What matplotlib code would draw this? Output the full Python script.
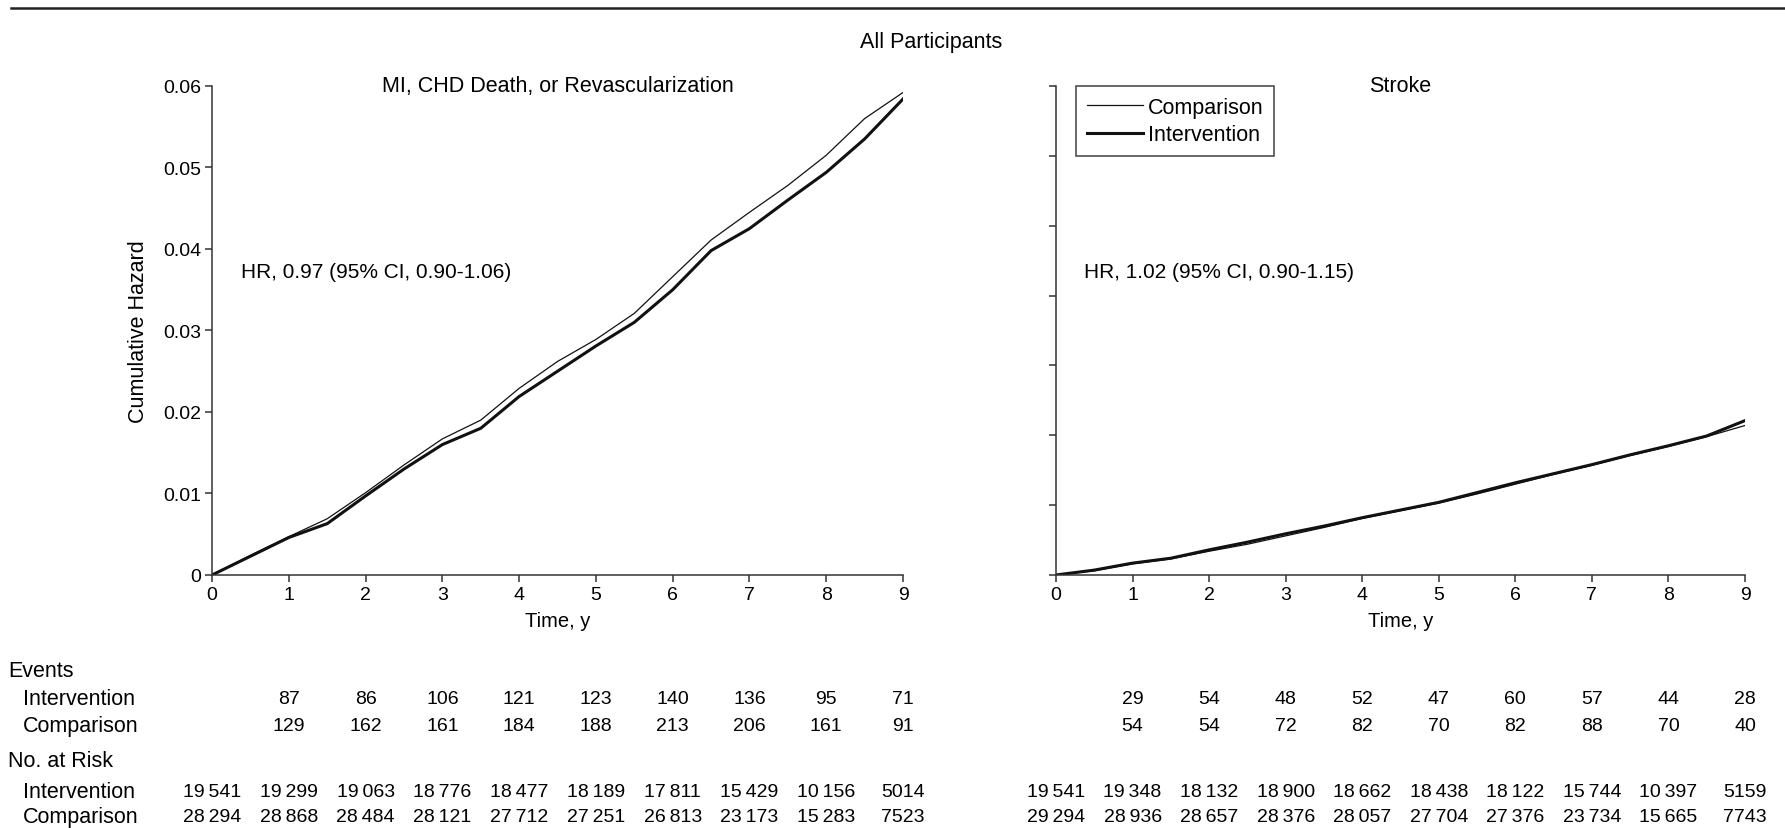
import matplotlib
matplotlib.use('Agg')
import matplotlib.pyplot as plt
from matplotlib.lines import Line2D
from matplotlib.transforms import blended_transform_factory

plt.rcParams['font.family'] = ['Liberation Sans', 'DejaVu Sans']
plt.rcParams['font.size'] = 14

# cumulative hazard read at half-year steps
years = [0, 0.5, 1, 1.5, 2, 2.5, 3, 3.5, 4, 4.5, 5, 5.5, 6, 6.5, 7, 7.5, 8, 8.5, 9]
chd_comparison = [0, 0.0024, 0.0047, 0.0069, 0.0101, 0.0135, 0.0167, 0.0190, 0.0229, 0.0262,
                  0.0289, 0.0321, 0.0366, 0.0411, 0.0445, 0.0478, 0.0515, 0.0560, 0.0592]
chd_intervention = [0, 0.0023, 0.0046, 0.0063, 0.0097, 0.0130, 0.0160, 0.0180, 0.0219, 0.0250,
                    0.0281, 0.0310, 0.0350, 0.0398, 0.0425, 0.0460, 0.0494, 0.0535, 0.0584]
stroke_comparison = [0, 0.0006, 0.0016, 0.0023, 0.0034, 0.0044, 0.0056, 0.0068, 0.0081, 0.0092,
                     0.0103, 0.0116, 0.0130, 0.0144, 0.0157, 0.0171, 0.0184, 0.0198, 0.0214]
stroke_intervention = [0, 0.0007, 0.0017, 0.0024, 0.0036, 0.0047, 0.0059, 0.0070, 0.0082, 0.0093,
                       0.0104, 0.0118, 0.0132, 0.0145, 0.0158, 0.0172, 0.0185, 0.0199, 0.0221]

# events per year (shown at end of each year) and numbers at risk (years 0-9)
chd_events_int = [87, 86, 106, 121, 123, 140, 136, 95, 71]
chd_events_comp = [129, 162, 161, 184, 188, 213, 206, 161, 91]
chd_risk_int = [19541, 19299, 19063, 18776, 18477, 18189, 17811, 15429, 10156, 5014]
chd_risk_comp = [28294, 28868, 28484, 28121, 27712, 27251, 26813, 23173, 15283, 7523]
stroke_events_int = [29, 54, 48, 52, 47, 60, 57, 44, 28]
stroke_events_comp = [54, 54, 72, 82, 70, 82, 88, 70, 40]
stroke_risk_int = [19541, 19348, 18132, 18900, 18662, 18438, 18122, 15744, 10397, 5159]
stroke_risk_comp = [29294, 28936, 28657, 28376, 28057, 27704, 27376, 23734, 15665, 7743]

ticks_x = list(range(10))
WORD = 15.5   # size for labels made of words
NUM = 14      # size for numbers


def fmt(n):
    if n >= 10000:
        return f"{n:,}".replace(',', '\u2009')
    return str(n)


fig = plt.figure(figsize=(17.85, 8.29), dpi=100)
ax1 = fig.add_axes([0.1188, 0.3052, 0.3871, 0.5899])
ax2 = fig.add_axes([0.5916, 0.3052, 0.3860, 0.5899])

spine_col = '#333333'
for ax in (ax1, ax2):
    for s in ('top', 'right'):
        ax.spines[s].set_visible(False)
    for s in ('left', 'bottom'):
        ax.spines[s].set_color(spine_col)
        ax.spines[s].set_linewidth(1.1)
    ax.tick_params(direction='out', length=5, width=1.1, color=spine_col, labelsize=NUM)
    ax.tick_params(axis='x', pad=3)
    ax.tick_params(axis='y', pad=3)
    ax.set_xlim(0, 9)
    ax.set_xticks(ticks_x)
    ax.set_xlabel('Time, y', fontsize=14.5, labelpad=6)

ax1.plot(years, chd_comparison, color='#111111', lw=0.9, label='Comparison')
ax1.plot(years, chd_intervention, color='#111111', lw=2.2, label='Intervention')
ax1.set_ylim(0, 0.06)
ax1.set_yticks([0, 0.01, 0.02, 0.03, 0.04, 0.05, 0.06])
ax1.set_yticklabels(['0', '0.01', '0.02', '0.03', '0.04', '0.05', '0.06'])
ax1.set_ylabel('Cumulative Hazard', fontsize=WORD, labelpad=10)
ax1.text(0.5, 1.0, 'MI, CHD Death, or Revascularization', transform=ax1.transAxes,
         ha='center', va='center', fontsize=WORD)
ax1.text(0.38, 0.0372, 'HR, 0.97 (95% CI, 0.90-1.06)', ha='left', va='center', fontsize=15)

l1, = ax2.plot(years, stroke_comparison, color='#111111', lw=0.9, label='Comparison')
l2, = ax2.plot(years, stroke_intervention, color='#111111', lw=2.2, label='Intervention')
ax2.set_ylim(0, 0.07)
ax2.set_yticks([0, 0.01, 0.02, 0.03, 0.04, 0.05, 0.06, 0.07])
ax2.set_yticklabels([])
ax2.text(0.5, 1.0, 'Stroke', transform=ax2.transAxes, ha='center', va='center', fontsize=WORD)
ax2.text(0.36, 0.0434, 'HR, 1.02 (95% CI, 0.90-1.15)', ha='left', va='center', fontsize=15)

leg = ax2.legend(handles=[l1, l2], loc='upper left', bbox_to_anchor=(0.029, 1.0),
                 borderaxespad=0, frameon=True, fancybox=False, edgecolor='#222222',
                 fontsize=WORD, handlelength=2.6, handletextpad=0.25, borderpad=0.5,
                 labelspacing=0.3)
leg.get_frame().set_linewidth(1.2)

# header
fig.text(0.5216, 0.949, 'All Participants', ha='center', va='center', fontsize=WORD)
fig.add_artist(Line2D([0.006, 1.0], [0.989, 0.989], transform=fig.transFigure,
                      color='#222222', lw=1.8))

# events / at-risk table under each panel
row_y = {'events': 0.190, 'ev_int': 0.156, 'ev_comp': 0.124,
         'risk': 0.082, 'rk_int': 0.044, 'rk_comp': 0.014}
fig.text(0.0045, row_y['events'], 'Events', ha='left', va='center', fontsize=WORD)
fig.text(0.013, row_y['ev_int'], 'Intervention', ha='left', va='center', fontsize=WORD)
fig.text(0.013, row_y['ev_comp'], 'Comparison', ha='left', va='center', fontsize=WORD)
fig.text(0.0045, row_y['risk'], 'No. at Risk', ha='left', va='center', fontsize=WORD)
fig.text(0.013, row_y['rk_int'], 'Intervention', ha='left', va='center', fontsize=WORD)
fig.text(0.013, row_y['rk_comp'], 'Comparison', ha='left', va='center', fontsize=WORD)

tables = [(ax1, chd_events_int, chd_events_comp, chd_risk_int, chd_risk_comp),
          (ax2, stroke_events_int, stroke_events_comp, stroke_risk_int, stroke_risk_comp)]
for ax, ev_i, ev_c, rk_i, rk_c in tables:
    trans = blended_transform_factory(ax.transData, fig.transFigure)
    for t, a, b in zip(ticks_x[1:], ev_i, ev_c):
        fig.text(t, row_y['ev_int'], str(a), transform=trans, ha='center', va='center', fontsize=NUM)
        fig.text(t, row_y['ev_comp'], str(b), transform=trans, ha='center', va='center', fontsize=NUM)
    for t, a, b in zip(ticks_x, rk_i, rk_c):
        fig.text(t, row_y['rk_int'], fmt(a), transform=trans, ha='center', va='center', fontsize=NUM)
        fig.text(t, row_y['rk_comp'], fmt(b), transform=trans, ha='center', va='center', fontsize=NUM)

fig.savefig('out.png', dpi=100, facecolor='white')
